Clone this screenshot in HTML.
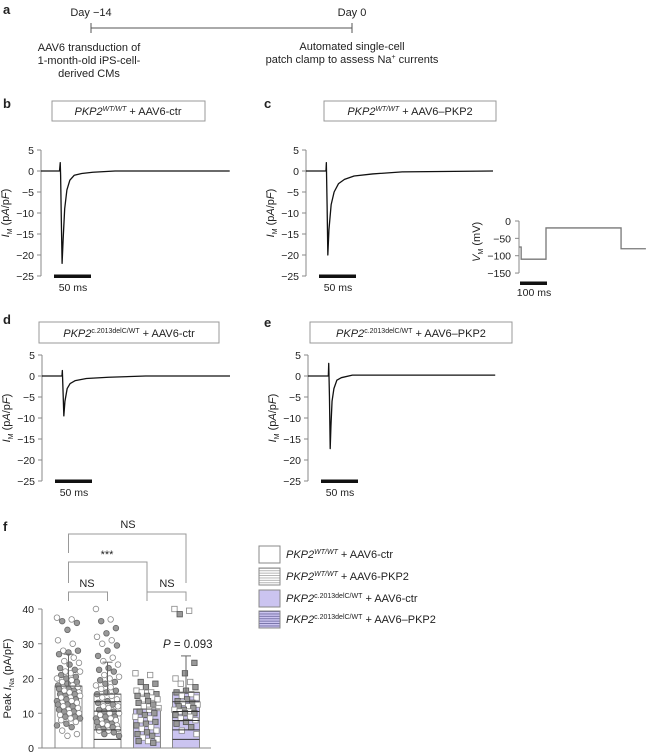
<!DOCTYPE html>
<html><head><meta charset="utf-8"><style>
html,body{margin:0;padding:0;background:#fff}
svg{display:block;font-family:"Liberation Sans",sans-serif}
text{fill:#222}
</style></head><body>
<svg id="fig" width="647" height="754" viewBox="0 0 647 754">
<defs>
<pattern id="hlines" width="4" height="2.4" patternUnits="userSpaceOnUse"><rect width="4" height="2.4" fill="#fff"/><rect y="1.6" width="4" height="0.7" fill="#999"/></pattern>
<pattern id="hlinesP" width="4" height="2.4" patternUnits="userSpaceOnUse"><rect width="4" height="2.4" fill="#cbc4f0"/><rect y="1.6" width="4" height="0.7" fill="#5a5790"/></pattern>
</defs>
<g>
<text x="3" y="14" font-size="13" font-weight="bold">a</text>
<text x="91" y="16" font-size="11" text-anchor="middle">Day −14</text>
<text x="352" y="16" font-size="11" text-anchor="middle">Day 0</text>
<line x1="91" y1="28" x2="352" y2="28" stroke="#555" stroke-width="1"/>
<line x1="91" y1="23" x2="91" y2="33" stroke="#555"/>
<line x1="352" y1="23" x2="352" y2="33" stroke="#555"/>
<text font-size="11" text-anchor="middle"><tspan x="89" y="51">AAV6 transduction of</tspan><tspan x="89" y="64">1-month-old iPS-cell-</tspan><tspan x="89" y="77">derived CMs</tspan></text>
<text font-size="11" text-anchor="middle"><tspan x="352" y="50">Automated single-cell</tspan><tspan x="352" y="63">patch clamp to assess Na<tspan font-size="7" dy="-4">+</tspan><tspan dy="4"> currents</tspan></tspan></text>
</g>
<text x="3" y="108" font-size="13" font-weight="bold">b</text>
<text x="264" y="108" font-size="13" font-weight="bold">c</text>
<text x="3" y="324" font-size="13" font-weight="bold">d</text>
<text x="264" y="327" font-size="13" font-weight="bold">e</text>
<text x="3" y="531" font-size="13" font-weight="bold">f</text>
<rect x="52" y="101" width="153" height="20" fill="#fff" stroke="#999"/>
<text x="128" y="115" font-size="11" text-anchor="middle"><tspan font-style="italic">PKP2</tspan><tspan font-size="7" font-style="italic" dy="-4">WT/WT</tspan><tspan dy="4"> + AAV6-ctr</tspan></text>
<rect x="324" y="101" width="172" height="20" fill="#fff" stroke="#999"/>
<text x="410" y="115" font-size="11" text-anchor="middle"><tspan font-style="italic">PKP2</tspan><tspan font-size="7" font-style="italic" dy="-4">WT/WT</tspan><tspan dy="4"> + AAV6–PKP2</tspan></text>
<rect x="39" y="322" width="180" height="21" fill="#fff" stroke="#999"/>
<text x="129" y="337" font-size="11" text-anchor="middle"><tspan font-style="italic">PKP2</tspan><tspan font-size="7" dy="-4">c.2013delC/WT</tspan><tspan dy="4"> + AAV6-ctr</tspan></text>
<rect x="310" y="322" width="202" height="21" fill="#fff" stroke="#999"/>
<text x="411" y="337" font-size="11" text-anchor="middle"><tspan font-style="italic">PKP2</tspan><tspan font-size="7" dy="-4">c.2013delC/WT</tspan><tspan dy="4"> + AAV6–PKP2</tspan></text>
<g id="traces"></g>
<g id="chartf"></g>
<g>
<rect x="259" y="546" width="21" height="17" fill="#fff" stroke="#888"/>
<text x="286" y="558" font-size="11"><tspan font-style="italic">PKP2</tspan><tspan font-size="7" font-style="italic" dy="-4">WT/WT</tspan><tspan dy="4"> + AAV6-ctr</tspan></text>
<rect x="259" y="568" width="21" height="17" fill="url(#hlines)" stroke="#888"/>
<text x="286" y="580" font-size="11"><tspan font-style="italic">PKP2</tspan><tspan font-size="7" font-style="italic" dy="-4">WT/WT</tspan><tspan dy="4"> + AAV6-PKP2</tspan></text>
<rect x="259" y="590" width="21" height="17" fill="#cbc4f0" stroke="#888"/>
<text x="286" y="602" font-size="11"><tspan font-style="italic">PKP2</tspan><tspan font-size="7" dy="-4">c.2013delC/WT</tspan><tspan dy="4"> + AAV6-ctr</tspan></text>
<rect x="259" y="611" width="21" height="17" fill="url(#hlinesP)" stroke="#888"/>
<text x="286" y="623" font-size="11"><tspan font-style="italic">PKP2</tspan><tspan font-size="7" dy="-4">c.2013delC/WT</tspan><tspan dy="4"> + AAV6–PKP2</tspan></text>
</g>
</svg>
<script>
const traceBT=[0,25,26,26.5,27.5,28.5,30,32,35,39,45,55,70,100,255];
const traceBV=[0,0,2,-1,-12,-22,-16,-9,-4.5,-2.2,-1,-0.6,-0.3,0,0];
const traceCT=[0,27,27.5,28.5,29.5,31,34,38,44,52,65,90,130,253];
const traceCV=[0,0,2,-8,-20,-14,-8,-5,-3,-2,-1.2,-0.7,-0.2,0];
const traceDT=[0,27,27.5,28.5,29.5,31,34,38,45,60,90,140,255];
const traceDV=[0,0,1.3,-4,-9.5,-6,-3,-1.8,-1.1,-0.6,-0.3,0,0];
const traceET=[0,27.5,28,29,30,31,32.5,35,39,45,60,100,253];
const traceEV=[0,0,3,-5,-17.3,-12,-6,-3,-1,-0.4,0.2,0.2,0.2];
const vmT=[0,8,8,100,100,378,378,470];
const vmV=[-75,-75,-110,-110,-20,-20,-80,-80];
const yTicksI=[5,0,-5,-10,-15,-20,-25];
const yTicksV=[0,-50,-100,-150];
const groups=["WT+ctr","WT+PKP2","mut+ctr","mut+PKP2"];
const means=[17.8,15.5,11.2,16.0];
const sdTop=[27,24.7,null,26.5];
const yTicksF=[0,10,20,30,40];
const g1=[37.5,37,36.5,36,34,31,30,28,28,27.5,27,26,25,24.5,24,23,22.5,22,22,21.5,21,20.5,20,20,19.5,19,19,18.5,18,18,17.5,17.5,17,17,16.5,16.5,16,16,15.5,15.5,15,15,14.5,14.5,14,14,13.5,13.5,13,13,12.5,12.5,12,12,11.5,11,11,10.5,10.5,10,10,9.5,9,9,8.5,8.5,8,7.5,7,6.5,6,5,4,3.5];
const g2=[40,37,36.5,34.5,33,32,31,30,29.5,28,26.5,26,25,24,23,22.5,22,21,20.5,20,19.5,19,18.5,18,17.5,17,16.5,16,15.5,15,14.5,14,13.5,13,12.5,12,12,11.5,11,10.5,10.5,10,10,9.5,9,9,8.5,8.5,8,8,7.5,7.5,7,7,6.5,6.5,6,6,5.5,5.5,5,5,4.5,4,3.5];
const g3=[21.5,21,19,18.5,17.5,16.5,16,16,15.5,15,15,14.5,14,14,13.5,13,12.5,12,11.5,11,10.5,10,9.5,9,8.5,8,7.5,7,6.5,6,5.5,5,4.5,4,3.5,3,2.5,2,2,1.5];
const g4=[40,39.5,38.5,24.5,21.5,20,19,18.5,17.5,16.5,16,15.5,15,14.5,14,13.5,13,13,12.5,12,12,11.5,11,11,10.5,10.5,10,10,9.5,9,8.5,8,7.5,7,6,5,4];
const innerLines=[[],[2.5,5.2,10.6,13.3],[],[2.5,5.2,7.9,10.5,13.3]];

const NS="http://www.w3.org/2000/svg";
function el(tag,parent,attrs){const e=document.createElementNS(NS,tag);for(const k in attrs)e.setAttribute(k,attrs[k]);parent.appendChild(e);return e;}
const T=document.getElementById('traces');

function panel(ax,y0,tt,tv,name,endX){
  const xs=t=>ax+t*0.74, ys=v=>y0-v*4.2;
  const g=el('g',T,{});
  
  
  const axis=el('line',g,{x1:ax,y1:ys(5),x2:ax,y2:ys(-25),stroke:'#888'});
  
  
  yTicksI.forEach(v=>{
    el('line',g,{x1:ax-4,x2:ax,y1:ys(v),y2:ys(v),stroke:'#888'});
    const t=el('text',g,{x:ax-7,y:ys(v)+4,'font-size':10.5,'text-anchor':'end'});
    t.textContent=v<0?'−'+(-v):String(v);
    
    
  });
  const lbl=el('text',g,{transform:`translate(${ax-32},${ys(-10)}) rotate(-90)`,'font-size':11,'text-anchor':'middle'});
  lbl.innerHTML='<tspan font-style="italic">I</tspan><tspan font-size="7" dy="3">M</tspan><tspan dy="-3"> (p</tspan><tspan font-style="italic">A</tspan>/p<tspan font-style="italic">F</tspan>)';
  
  
  const pts=[];
  const tEnd=(endX-ax)/0.74;
  for(let i=0;i<tt.length;i++){pts.push(xs(Math.min(tt[i],tEnd))+','+ys(tv[i]));}
  const pl=el('polyline',g,{points:pts.join(' '),fill:'none',stroke:'#111','stroke-width':1.3,'stroke-linejoin':'round'});
  
  
  const sb=el('rect',g,{x:ax+13,y:ys(-25)-1.5,width:37,height:3.5,fill:'#111'});
  
  
  const st=el('text',g,{x:ax+32,y:ys(-25)+15,'font-size':10.5,'text-anchor':'middle'});
  st.textContent='50 ms';
  
  
}
panel(41,171,traceBT,traceBV,'trace-panel-b',230);
panel(306,171,traceCT,traceCV,'trace-panel-c',493);
panel(42,376,traceDT,traceDV,'trace-panel-d',230);
panel(308,376,traceET,traceEV,'trace-panel-e',496);

(function(){
  const ax=519,xs=t=>ax+t*0.27,ys=v=>221-v*0.347;
  const g=el('g',T,{});
  
  
  el('line',g,{x1:ax,y1:ys(0),x2:ax,y2:ys(-150),stroke:'#888'});
  yTicksV.forEach(v=>{
    el('line',g,{x1:ax-4,x2:ax,y1:ys(v),y2:ys(v),stroke:'#888'});
    const t=el('text',g,{x:ax-8,y:ys(v)+4,'font-size':10.5,'text-anchor':'end'});
    t.textContent=v<0?'−'+(-v):String(v);
    
    
  });
  const lbl=el('text',g,{transform:`translate(${ax-39},${ys(-60)}) rotate(-90)`,'font-size':11,'text-anchor':'middle'});
  lbl.innerHTML='<tspan font-style="italic">V</tspan><tspan font-size="7" dy="3">M</tspan><tspan dy="-3"> (mV)</tspan>';
  
  
  const pts=vmT.map((t,i)=>xs(t)+','+ys(vmV[i]));
  const pl=el('polyline',g,{points:pts.join(' '),fill:'none',stroke:'#777','stroke-width':1.3});
  
  
  const sb=el('rect',g,{x:ax+1,y:281.5,width:27,height:3.5,fill:'#111'});
  
  
  const st=el('text',g,{x:ax+15,y:296,'font-size':10.5,'text-anchor':'middle'});
  st.textContent='100 ms';
  
  
})();

(function(){
  const C=document.getElementById('chartf');
  const ax=42, y=v=>748-v*3.475;
  const centers=[68.5,107.5,147,186], bw=27;
  const fills=['#fff','#fff','#cbc4f0','#cbc4f0'];
  const data=[g1,g2,g3,g4];
  const axis=el('line',C,{x1:ax,y1:y(40),x2:ax,y2:y(0),stroke:'#888'});
  
  
  const xa=el('line',C,{x1:ax,y1:y(0),x2:211,y2:y(0),stroke:'#888'});
  
  
  yTicksF.forEach(v=>{
    el('line',C,{x1:ax-4,x2:ax,y1:y(v),y2:y(v),stroke:'#888'});
    const t=el('text',C,{x:ax-8,y:y(v)+4,'font-size':10.5,'text-anchor':'end'});
    t.textContent=String(v);
    
    
  });
  const lbl=el('text',C,{transform:`translate(11,${y(20)}) rotate(-90)`,'font-size':11,'text-anchor':'middle'});
  lbl.innerHTML='Peak <tspan font-style="italic">I</tspan><tspan font-size="7" dy="3">Na</tspan><tspan dy="-3"> (pA/pF)</tspan>';
  
  
  groups.forEach((gname,gi)=>{
    const cx=centers[gi];
    const bar=el('rect',C,{x:cx-bw/2,y:y(means[gi]),width:bw,height:y(0)-y(means[gi]),fill:fills[gi],stroke:'#888'});
    
    
    const vals=data[gi];
    vals.forEach((v,i)=>{
      const off=(((i*37)%23)-11)*1.05;
      const filled=((i*5)%3)!==0 ? (i%2===0) : (i%2===1);
      let m;
      if(gi<2){m=el('circle',C,{cx:cx+off,cy:y(v),r:2.8,fill:filled?'#999':'#fff',stroke:filled?'#666':'#888','stroke-width':0.8});}
      else{m=el('rect',C,{x:cx+off-2.7,y:y(v)-2.7,width:5.4,height:5.4,fill:filled?'#999':'#fff',stroke:filled?'#555':'#888','stroke-width':0.8});}
      
      
    });
    innerLines[gi].forEach(v=>{
      const l=el('line',C,{x1:cx-bw/2,x2:cx+bw/2,y1:y(v),y2:y(v),stroke:'#333','stroke-width':1});
      
      
    });
    const ml=el('line',C,{x1:cx-bw/2,x2:cx+bw/2,y1:y(means[gi]),y2:y(means[gi]),stroke:'#666','stroke-width':1.2});
    
    
    if(sdTop[gi]!==null){
      const w=el('line',C,{x1:cx,x2:cx,y1:y(means[gi]),y2:y(sdTop[gi]),stroke:'#666'});
      
      
      el('line',C,{x1:cx-5,x2:cx+5,y1:y(sdTop[gi]),y2:y(sdTop[gi]),stroke:'#666'});
    }
  });
  const br=[[0,3,534,553,583,'NS',128,528],[0,2,562,583,583,'***',107,558],[0,1,592,601,601,'NS',87,587],[2,3,592,601,601,'NS',167,587]];
  br.forEach(b=>{
    const x1=centers[b[0]],x2=centers[b[1]];
    const p=el('polyline',C,{points:`${x1},${b[3]} ${x1},${b[2]} ${x2},${b[2]} ${x2},${b[4]}`,fill:'none',stroke:'#999'});
    
    
    const t=el('text',C,{x:b[6],y:b[7],'font-size':11,'text-anchor':'middle'});
    t.textContent=b[5];
    
    
  });
  el('line',C,{x1:centers[2],x2:centers[2],y1:583,y2:592,stroke:'#999'});
  const pt=el('text',C,{x:163,y:648,'font-size':11.5});
  pt.innerHTML='<tspan font-style="italic">P</tspan> = 0.093';
  
  
})();
</script>
</body></html>
